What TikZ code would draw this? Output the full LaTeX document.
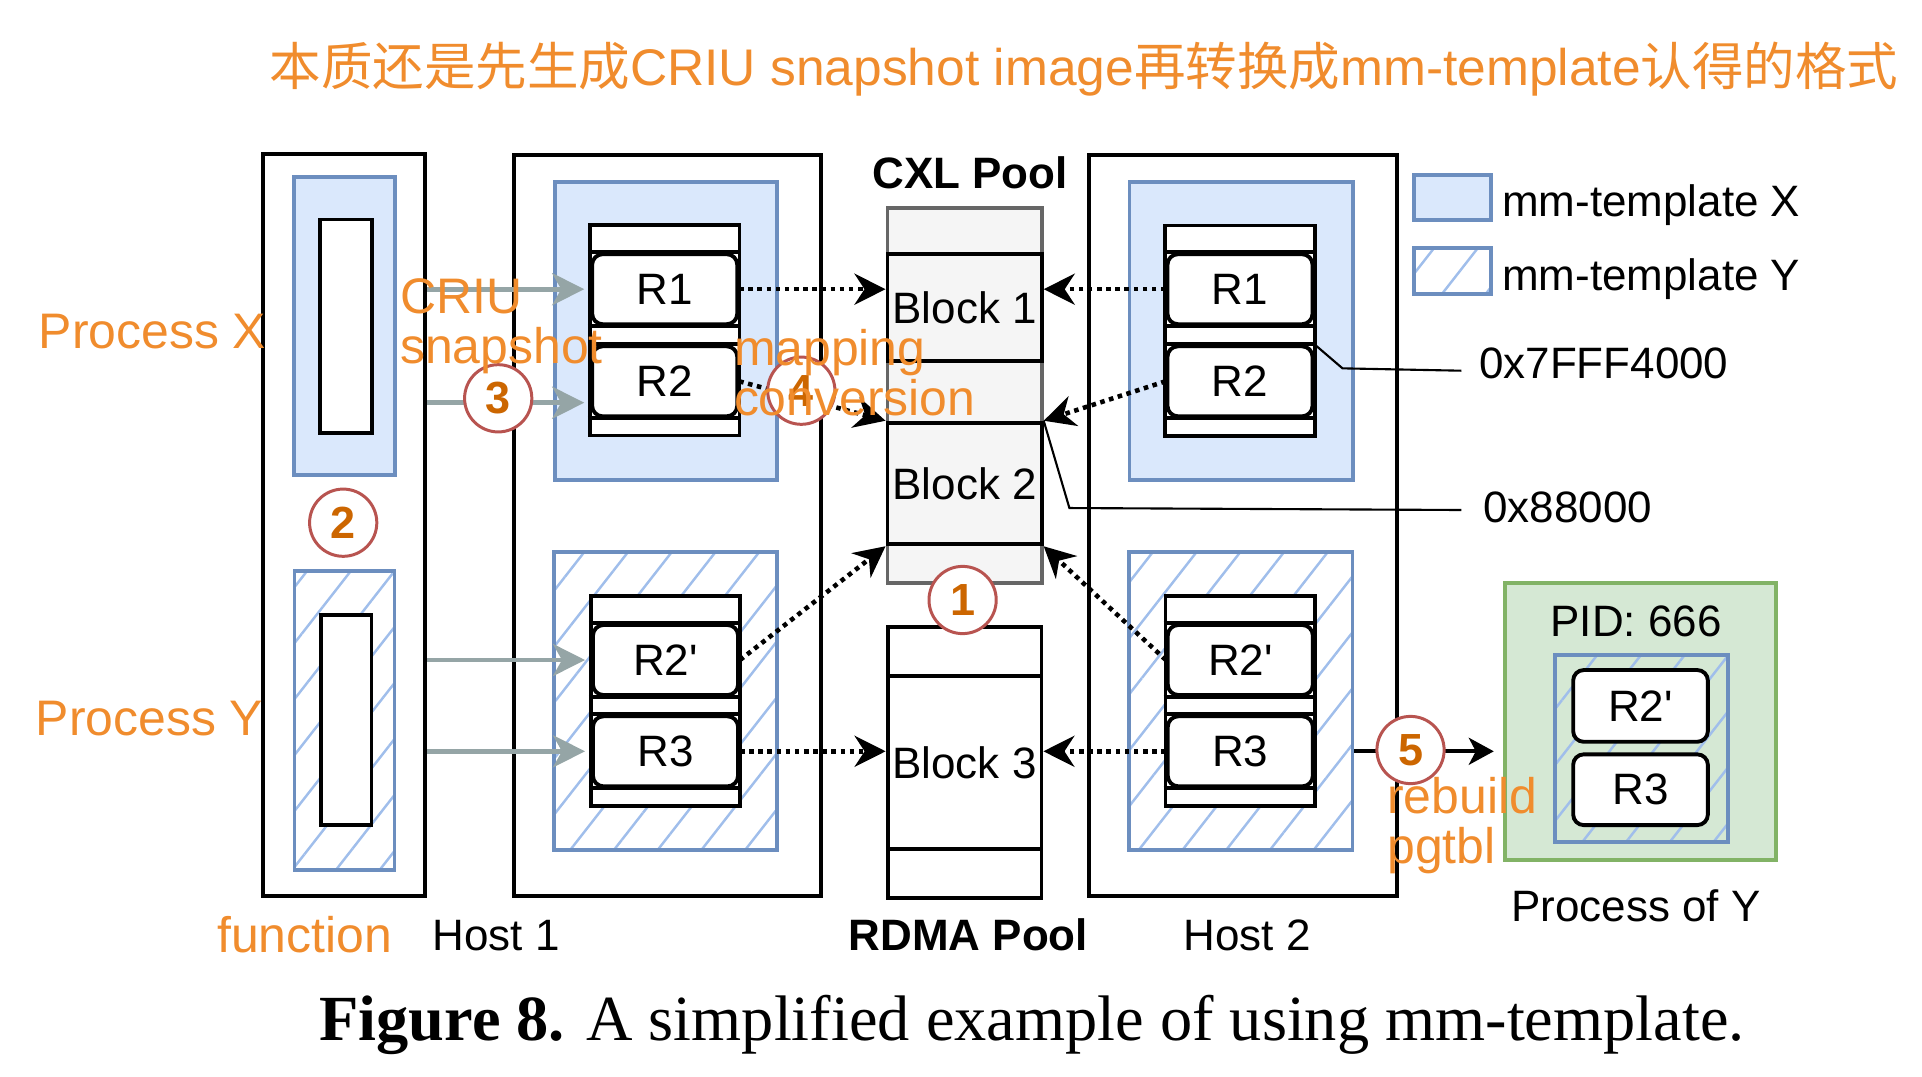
\documentclass[tikz,border=0pt]{standalone}
\usepackage{fontspec}
\setmainfont{Liberation Sans}
\newfontfamily\cjk{Noto Sans CJK SC}
\newfontfamily\capfont{Liberation Serif}
\usepackage{xcolor}
\usetikzlibrary{arrows.meta,patterns.meta,positioning}

\definecolor{note}{RGB}{240,140,45}
\definecolor{stepnum}{RGB}{204,102,0}
\definecolor{stepring}{RGB}{184,84,80}
\definecolor{tplfill}{RGB}{218,232,252}
\definecolor{tplline}{RGB}{108,142,191}
\definecolor{hatchblue}{RGB}{160,190,235}
\definecolor{poolfill}{RGB}{245,245,245}
\definecolor{poolline}{RGB}{102,102,102}
\definecolor{snapgray}{RGB}{149,165,166}
\definecolor{pidfill}{RGB}{213,232,212}
\definecolor{pidline}{RGB}{130,179,102}

\newcommand{\notesize}{\fontsize{14.2pt}{14.2pt}\selectfont}
\newcommand{\lblsize}{\fontsize{12.5pt}{12.5pt}\selectfont}
\newcommand{\numsize}{\fontsize{12.8pt}{12.8pt}\selectfont\bfseries}

\begin{document}
\begin{tikzpicture}[x=0.01cm,y=-0.01cm,
    hostbox/.style={draw,line width=1.1pt,inner sep=0pt},
    tplx/.style={draw=tplline,fill=tplfill,line width=1.1pt,inner sep=0pt},
    tply/.style={draw=tplline,line width=1.1pt,inner sep=0pt,
        pattern={Lines[angle=52,distance=9.8pt,line width=0.7pt]},pattern color=hatchblue},
    stackbox/.style={hostbox,fill=white,minimum width=1.495cm,minimum height=2.1cm},
    rbox/.style={draw,line width=1.1pt,rounded corners=3pt,fill=white,inner sep=0pt,
        minimum width=1.45cm,minimum height=0.7cm,font=\lblsize},
    blockbox/.style={hostbox,minimum width=1.542cm,font=\lblsize},
    stepmark/.style={circle,draw=stepring,line width=0.85pt,fill=white,inner sep=0pt,
        minimum size=0.672cm,text=stepnum,font=\numsize},
    orangenote/.style={text=note,font=\notesize,inner sep=0pt,align=left},
    lbl/.style={font=\lblsize,inner sep=0pt},
    dotarrow/.style={line width=1.3pt,dash pattern=on 1.3pt off 1.3pt,
        -{Stealth[length=0.31cm,width=0.31cm,inset=0.1cm]}},
    snaparrow/.style={color=snapgray,line width=1.4pt,shorten >=0.06cm,
        -{Stealth[length=0.32cm,width=0.32cm,inset=0.09cm]}},
    divider/.style={line width=1.1pt},
    leader/.style={line width=0.6pt}]

    \useasboundingbox (0,0) rectangle (1922,1076);

    % Title
    \node [orangenote,font=\fontsize{14.65pt}{14.65pt}\selectfont,anchor=base] at (1084,86) (title)
        {{\cjk 本质还是先生成}CRIU snapshot image{\cjk 再转换成}mm-template{\cjk 认得的格式}};

    % Function and hosts
    \node [hostbox,minimum width=1.62cm,minimum height=7.42cm] at (344,525) (fn) {};
    \node [hostbox,minimum width=3.07cm,minimum height=7.41cm] at (667.5,525.5) (host1) {};
    \node [hostbox,minimum width=3.08cm,minimum height=7.41cm] at (1242.7,525.5) (host2) {};

    % mm-templates
    \node [tplx,minimum width=1.01cm,minimum height=2.98cm] at (344.5,326) (tplXfn) {};
    \node [hostbox,fill=white,minimum width=0.52cm,minimum height=2.13cm] at (345.6,326) (memX) {};
    \node [tply,minimum width=1.0cm,minimum height=2.98cm] at (344.5,720.5) (tplYfn) {};
    \node [hostbox,fill=white,minimum width=0.505cm,minimum height=2.1cm] at (346.2,720) (memY) {};

    \node [tplx,minimum width=2.22cm,minimum height=2.97cm] at (665.7,331) (tplX1) {};
    \node [tply,minimum width=2.23cm,minimum height=2.98cm] at (665.8,701) (tplY1) {};
    \node [tplx,minimum width=2.23cm,minimum height=2.98cm] at (1241.1,331) (tplX2) {};
    \node [tply,minimum width=2.235cm,minimum height=2.98cm] at (1240.7,701) (tplY2) {};

    % Region stacks
    \node [stackbox] at (664.7,330.4) (stack1a) {};
    \node [rbox] at (664.7,289.2) (R1a) {R1};
    \node [rbox] at (664.7,381.3) (R2a) {R2};
    \node [stackbox] at (665.5,701) (stack1b) {};
    \node [rbox] at (665.5,660) (R2pa) {R2\textquotesingle};
    \node [rbox] at (665.5,751.3) (R3a) {R3};

    \node [stackbox] at (1240,330.5) (stack2a) {};
    \node [rbox] at (1240,289.2) (R1b) {R1};
    \node [rbox] at (1240,381.3) (R2b) {R2};
    \node [stackbox] at (1240.3,701) (stack2b) {};
    \node [rbox] at (1240.3,660) (R2pb) {R2\textquotesingle};
    \node [rbox] at (1240.3,751.3) (R3b) {R3};

    \path[divider]
    (stack1a.west |- R1a.north) edge (stack1a.east |- R1a.north)
    (stack1a.west |- R1a.south) edge (stack1a.east |- R1a.south)
    (stack1a.west |- R2a.north) edge (stack1a.east |- R2a.north)
    (stack1a.west |- R2a.south) edge (stack1a.east |- R2a.south)
    (stack1b.west |- R2pa.north) edge (stack1b.east |- R2pa.north)
    (stack1b.west |- R2pa.south) edge (stack1b.east |- R2pa.south)
    (stack1b.west |- R3a.north) edge (stack1b.east |- R3a.north)
    (stack1b.west |- R3a.south) edge (stack1b.east |- R3a.south)
    (stack2a.west |- R1b.north) edge (stack2a.east |- R1b.north)
    (stack2a.west |- R1b.south) edge (stack2a.east |- R1b.south)
    (stack2a.west |- R2b.north) edge (stack2a.east |- R2b.north)
    (stack2a.west |- R2b.south) edge (stack2a.east |- R2b.south)
    (stack2b.west |- R2pb.north) edge (stack2b.east |- R2pb.north)
    (stack2b.west |- R2pb.south) edge (stack2b.east |- R2pb.south)
    (stack2b.west |- R3b.north) edge (stack2b.east |- R3b.north)
    (stack2b.west |- R3b.south) edge (stack2b.east |- R3b.south);

    % Pools
    \node [draw=poolline,fill=poolfill,line width=1.1pt,minimum width=1.542cm,minimum height=3.75cm] at (964.6,395.8) (cxl) {};
    \node [blockbox,fill=poolfill,minimum height=1.067cm] at (964.6,307.4) (block1) {Block 1};
    \node [blockbox,fill=poolfill,minimum height=1.216cm] at (964.6,483.5) (block2) {Block 2};
    \node [hostbox,minimum width=1.538cm,minimum height=2.716cm] at (964.5,762.5) (rdma) {};
    \node [blockbox,minimum width=1.538cm,minimum height=1.733cm] at (964.5,762.7) (block3) {Block 3};

    % Process of Y
    \node [draw=pidline,fill=pidfill,line width=1.1pt,minimum width=2.714cm,minimum height=2.773cm] at (1640.5,721.4) (pid) {};
    \node [tply,minimum width=1.729cm,minimum height=1.867cm] at (1641.9,748.4) (tplYpid) {};
    \node [rbox,minimum width=1.346cm,minimum height=0.717cm] at (1640.5,705.9) (R2pc) {R2\textquotesingle};
    \node [rbox,minimum width=1.346cm,minimum height=0.707cm] at (1640.5,789.7) (R3c) {R3};

    % Legend
    \node [tplx,minimum width=0.768cm,minimum height=0.45cm] at (1452.4,197.5) (legX) {};
    \node [tply,minimum width=0.768cm,minimum height=0.457cm] at (1452.4,271.2) (legY) {};
    \node [lbl,anchor=base west] at (1501.6,216) (legXtext) {mm-template X};
    \node [lbl,anchor=base west] at (1501.6,290) (legYtext) {mm-template Y};

    % Labels
    \node [lbl,font=\lblsize\bfseries,anchor=base] at (970,188.3) (cxltext) {CXL Pool};
    \node [lbl,font=\lblsize\bfseries,anchor=base] at (968.4,950) (rdmatext) {RDMA Pool};
    \node [lbl,anchor=base] at (496,950) (host1text) {Host 1};
    \node [lbl,anchor=base] at (1247,950) (host2text) {Host 2};
    \node [lbl,anchor=base] at (1636,636.7) (pidtext) {PID: 666};
    \node [lbl,anchor=base] at (1636,921.7) (pidname) {Process of Y};
    \node [lbl,anchor=base west] at (1478.5,378.5) (addrhi) {0x7FFF4000};
    \node [lbl,anchor=base west] at (1482.8,522) (addrlo) {0x88000};
    \coordinate (hiend) at (1461.3,370.7);
    \coordinate (loend) at (1461.3,510);
    \coordinate (snap2) at ([yshift=-0.214cm]R2a.west);

    % Connectors
    \path[snaparrow]
    (fn.east |- R1a.west) edge (R1a.west)
    (fn.east |- snap2) edge (snap2)
    (fn.east |- R2pa.west) edge (R2pa.west)
    (fn.east |- R3a.west) edge (R3a.west);

    \path[dotarrow]
    (R1a.east) edge (R1a.east -| block1.west)
    (R2a.east) edge (block2.north west)
    (R2pa.east) edge (block2.south west)
    (R3a.east) edge (R3a.east -| block3.west)
    (R1b.west) edge (R1b.west -| block1.east)
    (R2b.west) edge (block2.north east)
    (R2pb.west) edge (block2.south east)
    (R3b.west) edge (R3b.west -| block3.east);

    \path[-{Stealth[length=0.25cm,width=0.27cm,inset=0.07cm]},line width=1.1pt,shorten >=0.09cm]
    (tplY2.east |- R3b.east) edge (pid.west |- R3b.east);

    \draw[leader] (R2b.north east) -- ++(28,24) -- (hiend);
    \draw[leader] (block2.north east) -- ++(25.7,87.3) -- (loend);

    % Steps
    \node [stepmark] at (962.6,600) (s1) {1};
    \node [stepmark] at (343.2,522.7) (s2) {2};
    \node [stepmark] at (498.2,398.3) (s3) {3};
    \node [stepmark] at (801.3,390.7) (s4) {4};
    \node [stepmark] at (1410.5,750) (s5) {5};

    % Orange notes (base is the last line)
    \node [orangenote,anchor=base east] at (267,348.3) (procX) {Process X};
    \node [orangenote,anchor=base east] at (264,735) (procY) {Process Y};
    \node [orangenote,anchor=base west] at (399.4,363.3) (criu) {CRIU\\snapshot};
    \node [orangenote,anchor=base west] at (733.3,415) (mapconv) {mapping\\conversion};
    \node [orangenote,anchor=base west] at (1386.6,863.3) (rebuild) {rebuild\\pgtbl};
    \node [orangenote,anchor=base] at (304.7,952) (fnname) {function};

    % Caption
    \node [anchor=base,inner sep=0pt,font=\capfont\fontsize{18.3pt}{18.3pt}\selectfont] at (1032,1040) (caption)
        {\textbf{Figure 8.} A simplified example of using mm-template.};
\end{tikzpicture}
\end{document}
